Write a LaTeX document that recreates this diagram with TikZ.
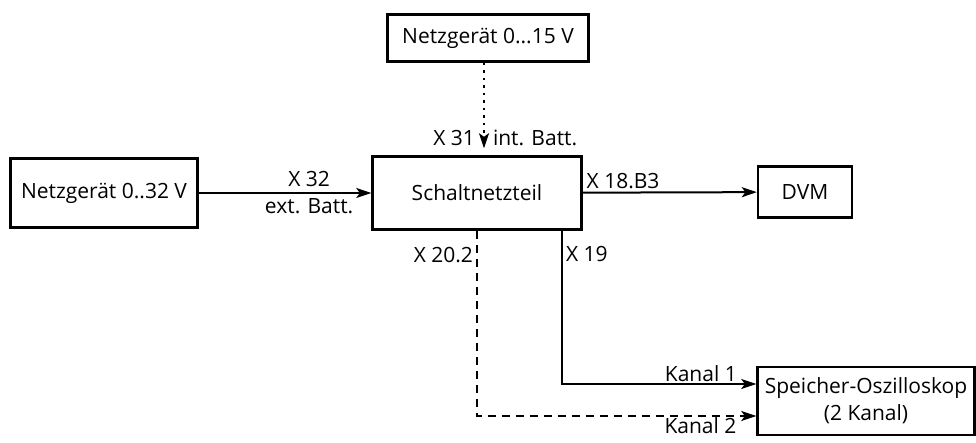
\documentclass[tikz,border=0pt]{standalone}
\usepackage{fontspec}
\setmainfont{Open Sans}
\usetikzlibrary{positioning,arrows.meta,calc}

\begin{document}
\begin{tikzpicture}[
  x=1pt, y=-1pt,
  font=\fontsize{21}{24}\selectfont,
  >={Stealth[length=15pt,width=10pt,inset=3.5pt]},
  % --- boxes and connectors ---
  box/.style     ={draw=black,line width=2.4pt,align=center,inner sep=3pt},
  flow/.style    ={->,line width=2pt},
  dotflow/.style ={flow,dash pattern=on 2.5pt off 5pt},
  dashflow/.style={flow,dash pattern=on 8pt off 6pt},
  lbl/.style     ={inner sep=5pt},
]
\useasboundingbox (0,0) rectangle (976,443);

% ============================== units ==============================
\node[box,minimum width=201pt,minimum height=47pt] (psu15) at (488,38)  {Netzgerät 0...15 V};
\node[box,minimum width=187pt,minimum height=69pt] (psu32) at (104,193) {Netzgerät 0..32 V};
\node[box,minimum width=209pt,minimum height=73pt] (smps)  at (477,193) {Schaltnetzteil};
\node[box,minimum width=94pt,minimum height=51pt]  (dvm)   at (805,192) {DVM};
\node[box,minimum width=217pt,minimum height=68pt,
      font=\fontsize{21}{27}\selectfont]           (scope) at (866,401) {Speicher-Oszilloskop\\(2 Kanal)};

% ======================== tap-off positions ========================
\coordinate (x31) at (484,0);
\coordinate (x20) at (477,0);
\coordinate (x19) at (562,0);
\coordinate (ch1) at (0,384);
\coordinate (ch2) at (0,416);

% ============================ connectors ===========================
\draw[dotflow] (psu15.south -| x31) -- ($(smps.north -| x31)+(0,-7)$)
  node[lbl,left,pos=0.88,inner sep=8pt]{X 31} node[lbl,right,pos=0.88,inner sep=8pt]{int. Batt.};
\draw[flow] (psu32) -- (smps)
  node[lbl,above,pos=0.64]{X 32} node[lbl,below,pos=0.64]{ext. Batt.};
\draw[flow] (smps) -- (dvm)
  node[lbl,above right,pos=0,inner sep=3pt]{X 18.B3};
\draw[flow] (smps.south -| x19) |- (scope.west |- ch1)
  node[lbl,right,pos=0.075,inner sep=3pt]{X 19}
  node[inner sep=1pt,anchor=south east,pos=0.955]{Kanal 1};
\draw[dashflow] (smps.south -| x20) |- (scope.west |- ch2)
  node[lbl,left,pos=0.065,inner sep=3pt]{X 20.2}
  node[inner sep=1pt,anchor=north east,pos=0.968]{Kanal 2};

\end{tikzpicture}
\end{document}
